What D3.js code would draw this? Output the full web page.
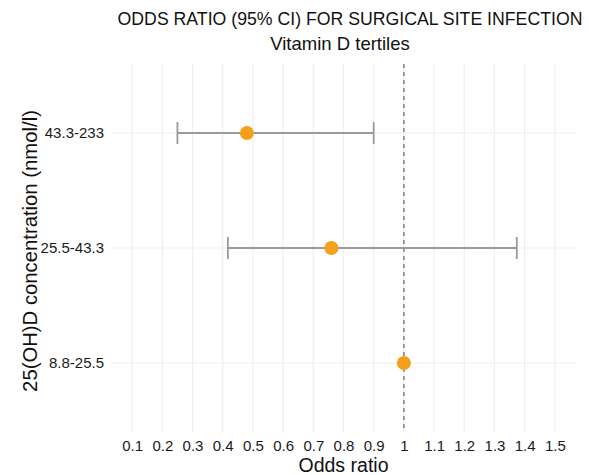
<!DOCTYPE html>
<html>
<head>
<meta charset="utf-8">
<script src="https://cdn.jsdelivr.net/npm/d3@7"></script>
<style>
  body { margin: 0; background: #fff; }
  svg { font-family: "Liberation Sans", Arial, sans-serif; }
</style>
</head>
<body>
<div id="app"></div>
<script>
let tertiles = ['8.8-25.5', '25.5-43.3', '43.3-233'];
let oddsRatio = [1, 0.76, 0.48];
let ciLow = [1, 0.417, 0.25];
let ciHigh = [1, 1.374, 0.90];
let xTicks = [0.1, 0.2, 0.3, 0.4, 0.5, 0.6, 0.7, 0.8, 0.9, 1, 1.1, 1.2, 1.3, 1.4, 1.5];

let width = 589;
let height = 475;
let panel = { left: 111, right: 576, top: 64, bottom: 432 };

let svg = d3.select('#app').append('svg')
    .attr('width', width)
    .attr('height', height)
    .style('background', '#fff');

// x limits 0.1..1.5 with 5% expansion like ggplot
let xScale = d3.scaleLinear()
               .domain([0.1 - 0.07, 1.5 + 0.07])
               .range([panel.left, panel.right]);

let yScale = d3.scalePoint()
               .domain(tertiles)
               .range([panel.bottom, panel.top])
               .padding(0.6);

// grid
svg.append('g')
  .selectAll('line')
  .data(xTicks)
  .enter()
  .append('line')
    .attr('x1', d => xScale(d))
    .attr('x2', d => xScale(d))
    .attr('y1', panel.top)
    .attr('y2', panel.bottom)
    .style('stroke', '#efefef')
    .style('stroke-width', 1.2);

svg.append('g')
  .selectAll('line')
  .data(tertiles)
  .enter()
  .append('line')
    .attr('x1', panel.left)
    .attr('x2', panel.right)
    .attr('y1', d => yScale(d))
    .attr('y2', d => yScale(d))
    .style('stroke', '#efefef')
    .style('stroke-width', 1.2);

// reference line at OR = 1
svg.append('line')
    .attr('x1', xScale(1))
    .attr('x2', xScale(1))
    .attr('y1', panel.top)
    .attr('y2', panel.bottom)
    .style('stroke', '#6f6f6f')
    .style('stroke-width', 1.3)
    .style('stroke-dasharray', '4,4');

// error bars
let bars = svg.append('g')
  .selectAll('g')
  .data(tertiles.map((t, i) => ({ t: t, lo: ciLow[i], hi: ciHigh[i], or: oddsRatio[i] })))
  .enter()
  .append('g')
    .attr('transform', d => 'translate(0,' + yScale(d.t) + ')');

bars.filter(d => d.hi > d.lo).each(function(d) {
  let g = d3.select(this);
  g.append('line')
    .attr('x1', xScale(d.lo)).attr('x2', xScale(d.hi))
    .attr('y1', 0).attr('y2', 0);
  g.append('line')
    .attr('x1', xScale(d.lo)).attr('x2', xScale(d.lo))
    .attr('y1', -11).attr('y2', 11);
  g.append('line')
    .attr('x1', xScale(d.hi)).attr('x2', xScale(d.hi))
    .attr('y1', -11).attr('y2', 11);
  g.selectAll('line')
    .style('stroke', '#9e9896')
    .style('stroke-width', 1.8);
});

bars.append('circle')
    .attr('cx', d => xScale(d.or))
    .attr('cy', 0)
    .attr('r', 7)
    .style('fill', '#f5a01a');

// axes
let xAxis = svg.append('g')
    .attr('transform', 'translate(0,' + panel.bottom + ')')
    .call(d3.axisBottom(xScale).tickValues(xTicks).tickFormat(d3.format('')).tickSize(0).tickPadding(8));
xAxis.select('.domain').remove();
xAxis.selectAll('text')
    .style('font-size', '15px')
    .style('font-family', '"Liberation Sans", Arial, sans-serif')
    .style('fill', '#1a1a1a');

let yAxis = svg.append('g')
    .attr('transform', 'translate(' + panel.left + ',0)')
    .call(d3.axisLeft(yScale).tickSize(0).tickPadding(7));
yAxis.select('.domain').remove();
yAxis.selectAll('text')
    .style('font-size', '15px')
    .style('font-family', '"Liberation Sans", Arial, sans-serif')
    .style('fill', '#1a1a1a');

// titles
svg.append('text')
    .attr('x', 350)
    .attr('y', 25)
    .attr('text-anchor', 'middle')
    .style('font-size', '17.7px')
    .style('fill', '#111')
    .text('ODDS RATIO (95% CI) FOR SURGICAL SITE INFECTION');

svg.append('text')
    .attr('x', 340)
    .attr('y', 50)
    .attr('text-anchor', 'middle')
    .style('font-size', '18.5px')
    .style('fill', '#111')
    .text('Vitamin D tertiles');

svg.append('text')
    .attr('x', (panel.left + panel.right) / 2)
    .attr('y', 472)
    .attr('text-anchor', 'middle')
    .style('font-size', '19.5px')
    .style('fill', '#111')
    .text('Odds ratio');

svg.append('text')
    .attr('transform', 'translate(37,251) rotate(-90)')
    .attr('text-anchor', 'middle')
    .style('font-size', '20.3px')
    .style('fill', '#111')
    .text('25(OH)D concentration (nmol/l)');
</script>
</body>
</html>
